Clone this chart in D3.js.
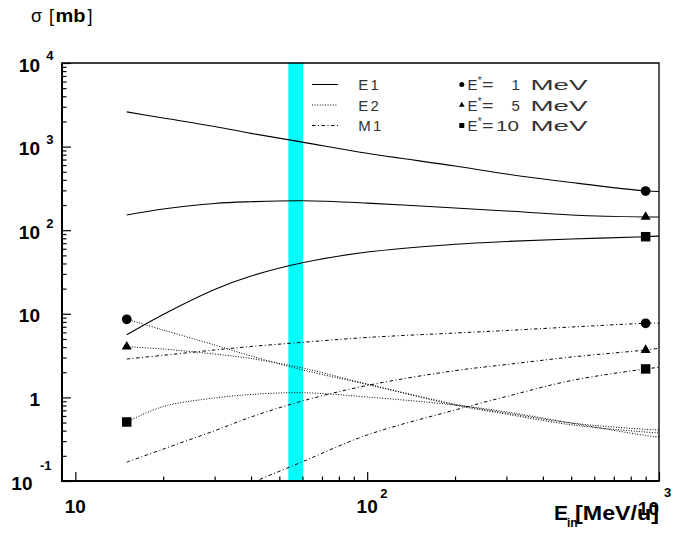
<!DOCTYPE html>
<html>
<head>
<meta charset="utf-8">
<script src="https://cdn.jsdelivr.net/npm/d3@7"></script>
<style>
  body { margin: 0; background: #fff; }
  svg { display: block; }
  text { font-family: "Liberation Sans", Arial, Helvetica, sans-serif; }
</style>
</head>
<body>
<svg id="chart" width="683" height="538"></svg>
<script>
// beam energies (MeV/u) where the curves were read
var energies = [15, 20, 30, 40, 60, 100, 200, 300, 500, 900, 1000];

// cross sections in mb, one list per multipolarity / excitation energy
var e1_1MeV  = [2600, 2200, 1740, 1440, 1130, 832, 586, 470, 372, 294, 290];
var e1_5MeV  = [152, 179, 209, 219, 225, 211, 184, 170, 152, 144, 144];
var e1_10MeV = [5.6, 9.8, 19.5, 28.3, 40.8, 54.8, 67.8, 73.3, 78.5, 83.6, 85];
var e2_1MeV  = [8.6, 6.4, 4.24, 3.13, 2.13, 1.43, 0.81, 0.63, 0.47, 0.385, 0.375];
var e2_5MeV  = [4.04, 3.79, 3.30, 2.92, 2.25, 1.445, 0.83, 0.65, 0.494, 0.415, 0.407];
var e2_10MeV = [0.508, 0.778, 0.983, 1.083, 1.138, 1.011, 0.81, 0.67, 0.494, 0.35, 0.336];
var m1_1MeV  = [2.88, 3.19, 3.69, 4.06, 4.56, 5.21, 5.89, 6.31, 6.95, 7.7, 7.75];
var m1_5MeV  = [0.168, 0.241, 0.399, 0.583, 0.906, 1.39, 2.09, 2.47, 3.04, 3.69, 3.87];
var m1_10MeV = [null, null, null, 0.0946, 0.170, 0.355, 0.707, 1.025, 1.59, 2.19, 2.29];

// markers [energy, sigma]
var markCircle   = [[15, 8.6], [900, 294], [900, 7.7]];
var markTriangle = [[15, 4.04], [900, 144], [900, 3.69]];
var markSquare   = [[15, 0.508], [900, 83.6], [900, 2.19]];

// highlighted energy window
var band = [53.7, 60.3];

// axis ticks and labels
var yMajor = [0.1, 1, 10, 100, 1000, 10000];
var yLabelBase = ["10", "1", "10", "10", "10", "10"];
var yLabelExp  = ["-1", "", "", "2", "3", "4"];
var xMajor = [10, 100, 1000];
var xLabelBase = ["10", "10", "10"];
var xLabelExp  = ["", "2", "3"];

var legendLines = ["E1", "E2", "M1"];
var legendMarks = ["1", "5", "10"];

var svg = d3.select('#chart');
var plotL = 62, plotR = 659, plotT = 63, plotB = 481;

var x = d3.scaleLog().domain([9, 1000]).range([plotL, plotR]);
var y = d3.scaleLog().domain([0.1, 10000]).range([plotB, plotT]);

var styles = {
    E1: { dash: null },
    E2: { dash: '1,1.6' },
    M1: { dash: '3.5,2.5,1,2.5' }
};

svg.append('clipPath').attr('id', 'plotClip')
    .append('rect').attr('x', plotL).attr('y', plotT)
    .attr('width', plotR - plotL).attr('height', plotB - plotT);

// cyan band
svg.append('rect')
    .attr('x', x(band[0])).attr('y', plotT)
    .attr('width', x(band[1]) - x(band[0])).attr('height', plotB - plotT)
    .attr('fill', '#00ffff');

// curves
var line = d3.line()
    .defined(function (d) { return d[1] != null; })
    .x(function (d) { return x(d[0]); })
    .y(function (d) { return y(d[1]); })
    .curve(d3.curveCatmullRom.alpha(0.5));

var series = [
    ['E1', e1_1MeV], ['E1', e1_5MeV], ['E1', e1_10MeV],
    ['E2', e2_1MeV], ['E2', e2_5MeV], ['E2', e2_10MeV],
    ['M1', m1_1MeV], ['M1', m1_5MeV], ['M1', m1_10MeV]
];

var curves = svg.append('g').attr('clip-path', 'url(#plotClip)');
series.forEach(function (s) {
    var pts = energies.map(function (e, i) { return [e, s[1][i]]; });
    curves.append('path')
        .attr('d', line(pts))
        .attr('fill', 'none')
        .attr('stroke', '#000')
        .attr('stroke-width', s[0] === 'E1' ? 1.1 : 1)
        .attr('stroke-dasharray', styles[s[0]].dash);
});

// markers
function drawMarks(data, type, size) {
    svg.append('g').selectAll('path').data(data).enter().append('path')
        .attr('d', d3.symbol().type(type).size(size))
        .attr('transform', function (d) { return 'translate(' + x(d[0]) + ',' + y(d[1]) + ')'; })
        .attr('fill', '#000');
}
drawMarks(markCircle, d3.symbolCircle, 74);
drawMarks(markTriangle, d3.symbolTriangle, 44);
drawMarks(markSquare, d3.symbolSquare, 90);

// ticks (inward)
function minorTicks(lo, hi) {
    var out = [];
    for (var p = lo; p < hi; p *= 10) {
        for (var k = 2; k <= 9; k++) out.push(p * k);
    }
    return out;
}
var yMinor = minorTicks(0.1, 10000);
var xMinor = minorTicks(10, 1000);

svg.append('g').attr('transform', 'translate(' + plotL + ',0)')
    .call(d3.axisLeft(y).tickValues(yMinor).tickSize(-4.5).tickFormat(''))
    .call(function (g) { g.select('.domain').remove(); });
svg.append('g').attr('transform', 'translate(' + plotL + ',0)')
    .call(d3.axisLeft(y).tickValues(yMajor).tickSize(-9).tickFormat(''))
    .call(function (g) { g.select('.domain').remove(); });
svg.append('g').attr('transform', 'translate(0,' + plotB + ')')
    .call(d3.axisBottom(x).tickValues(xMinor).tickSize(-4.5).tickFormat(''))
    .call(function (g) { g.select('.domain').remove(); });
svg.append('g').attr('transform', 'translate(0,' + plotB + ')')
    .call(d3.axisBottom(x).tickValues(xMajor).tickSize(-9).tickFormat(''))
    .call(function (g) { g.select('.domain').remove(); });
svg.selectAll('.tick line').attr('stroke', '#000').attr('stroke-width', 1.2);

// frame
svg.append('path').attr('d', 'M' + plotL + ',' + plotT + 'H' + plotR + 'V' + plotB)
    .attr('fill', 'none').attr('stroke', '#000').attr('stroke-width', 1.3);
svg.append('path').attr('d', 'M' + plotL + ',' + (plotT - 0.5) + 'V' + plotB + 'H' + (plotR + 0.6))
    .attr('fill', 'none').attr('stroke', '#000').attr('stroke-width', 2);

// y tick labels
yMajor.forEach(function (v, i) {
    var ty = y(v);
    var isLow = yLabelExp[i] === '-1';
    svg.append('text')
        .attr('x', isLow ? 32.5 : 40).attr('y', ty + 8.5)
        .attr('text-anchor', 'end')
        .style('font-size', '19px').style('font-weight', 'bold')
        .text(yLabelBase[i]);
    if (yLabelExp[i]) {
        svg.append('text')
            .attr('x', isLow ? 40 : 46.3).attr('y', isLow ? ty - 11 : ty - 2.7)
            .style('font-size', '13px').style('font-weight', 'bold')
            .text(yLabelExp[i]);
    }
});

// x tick labels
xMajor.forEach(function (v, i) {
    var tx = x(v);
    var last = i === xMajor.length - 1;
    svg.append('text')
        .attr('x', last ? 659 : tx).attr('y', last ? 515 : 512.5)
        .attr('text-anchor', last ? 'end' : 'middle')
        .style('font-size', '19px').style('font-weight', 'bold')
        .text(xLabelBase[i]);
    if (xLabelExp[i]) {
        svg.append('text')
            .attr('x', last ? 664 : tx + 13).attr('y', last ? 497 : 498)
            .style('font-size', '13px').style('font-weight', 'bold')
            .text(xLabelExp[i]);
    }
});

// axis titles
var yt = svg.append('g');
yt.append('text').attr('x', 31).attr('y', 22).style('font-size', '18px').text('σ');
yt.append('text').attr('x', 49).attr('y', 22).style('font-size', '18px').text('[');
yt.append('text').attr('x', 55.5).attr('y', 22).style('font-size', '18px').style('font-weight', 'bold')
    .attr('textLength', 30).attr('lengthAdjust', 'spacingAndGlyphs').text('mb');
yt.append('text').attr('x', 87.5).attr('y', 22).style('font-size', '18px').text(']');

var xt = svg.append('g').style('font-weight', 'bold');
xt.append('text').attr('x', 554).attr('y', 520).style('font-size', '21px').text('E');
xt.append('text').attr('x', 567).attr('y', 527).style('font-size', '12px').text('in');
xt.append('text').attr('x', 575).attr('y', 520).style('font-size', '21px')
    .attr('textLength', 84).attr('lengthAdjust', 'spacingAndGlyphs').text('[MeV/u]');

// legend
var rowY = [84.5, 105, 125.5];
var lg = svg.append('g').style('font-size', '15px').attr('fill', '#333');
legendLines.forEach(function (name, i) {
    lg.append('line')
        .attr('x1', 312).attr('x2', 338).attr('y1', rowY[i]).attr('y2', rowY[i])
        .attr('stroke', '#000').attr('stroke-width', 1)
        .attr('stroke-dasharray', styles[name].dash);
    lg.append('text').attr('x', 358.2).attr('y', rowY[i] + 5.7)
        .style('letter-spacing', '2.3px').text(name);
});
var legendSymbols = [[d3.symbolCircle, 20], [d3.symbolTriangle, 14], [d3.symbolSquare, 25]];
legendMarks.forEach(function (val, i) {
    var ry = rowY[i];
    lg.append('path')
        .attr('d', d3.symbol().type(legendSymbols[i][0]).size(legendSymbols[i][1]))
        .attr('transform', 'translate(461.8,' + ry + ')')
        .attr('fill', '#000');
    lg.append('text').attr('x', 467.5).attr('y', ry + 5.7).text('E');
    lg.append('text').attr('x', 477.8).attr('y', ry - 0.5).style('font-size', '10px').text('*');
    lg.append('text').attr('x', 482).attr('y', ry + 5.7)
        .attr('textLength', 11.5).attr('lengthAdjust', 'spacingAndGlyphs').text('=');
    if (val.length > 1) {
        lg.append('text').attr('x', 496).attr('y', ry + 5.7)
            .attr('textLength', 23).attr('lengthAdjust', 'spacingAndGlyphs').text(val);
    } else {
        lg.append('text').attr('x', 511.5).attr('y', ry + 5.7).text(val);
    }
    lg.append('text').attr('x', 530.5).attr('y', ry + 5.7)
        .attr('textLength', 57).attr('lengthAdjust', 'spacingAndGlyphs').text('MeV');
});
</script>
</body>
</html>
